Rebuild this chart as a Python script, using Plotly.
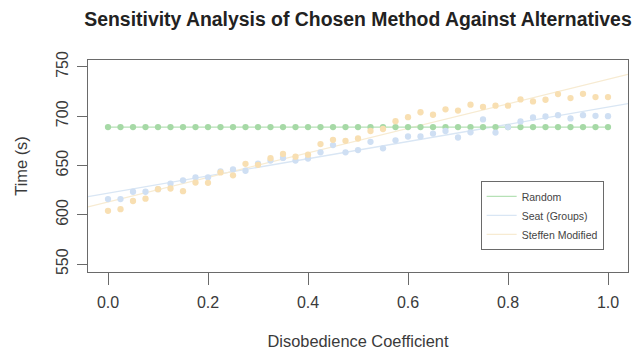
import numpy as np
import plotly.graph_objects as go

# ---- data ----
coef = [round(i * 0.025, 3) for i in range(41)]
random_t = [689] * 41
seat_t = [616, 616, 623.4, 623.4, 626, 631.7, 635, 638, 638, 644, 646,
          644.7, 652, 655, 657.7, 655, 657, 663.4, 670.7, 663.4, 665.7,
          674, 667.4, 675.5, 679.4, 679.4, 682.4, 685, 678.4, 683.7, 696.7,
          683.4, 689, 694.7, 698.7, 699.7, 701, 697.7, 701, 700.4, 700]
steffen_t = [604, 605.7, 614, 616.4, 626, 626.7, 624, 632.7, 632.4, 643, 640,
             651.7, 650.7, 657.4, 661.7, 659, 661, 671.7, 676, 675, 677.4,
             685, 687, 695, 699, 704, 701.5, 707, 705.7, 711.7, 709.4,
             710.7, 710.7, 717, 715, 716.7, 722.4, 718.4, 722.7, 719.4, 719.4]
names = ["Random", "Seat (Groups)", "Steffen Modified"]
x_ticks = [0.0, 0.2, 0.4, 0.6, 0.8, 1.0]
y_ticks = [550, 600, 650, 700, 750]

XRANGE = [-0.04, 1.04]
YRANGE = [542, 757]

FONT = "Liberation Sans, Arial, Helvetica, sans-serif"
c_green_pt, c_green_ln = "#a6d9a6", "#b6e1b6"
c_blue_pt, c_blue_ln = "#cfdff3", "#d9e6f4"
c_orng_pt, c_orng_ln = "#f8dfb2", "#f7ebd2"

fig = go.Figure()

xc = np.array(coef)
xl = np.array(XRANGE)
for vals, name, col, rank in [(seat_t, names[1], c_blue_ln, 2),
                              (steffen_t, names[2], c_orng_ln, 3)]:
    k, b = np.polyfit(xc, np.array(vals), 1)
    fig.add_trace(go.Scatter(x=xl, y=k * xl + b, mode="lines", name=name,
                             line=dict(color=col, width=1.3), legendrank=rank))

fig.add_trace(go.Scatter(x=coef, y=random_t, mode="lines", name=names[0],
                         line=dict(color=c_green_ln, width=1.3), legendrank=1))
fig.add_trace(go.Scatter(x=coef, y=random_t, mode="markers", showlegend=False,
                         marker=dict(color=c_green_pt, size=6.3)))
fig.add_trace(go.Scatter(x=coef, y=seat_t, mode="markers", showlegend=False,
                         marker=dict(color=c_blue_pt, size=6.3)))
fig.add_trace(go.Scatter(x=coef, y=steffen_t, mode="markers", showlegend=False,
                         marker=dict(color=c_orng_pt, size=6.3)))

axis_common = dict(showline=True, mirror=True, linecolor="#6a6a6a", linewidth=1,
                   ticks="outside", tickcolor="#6a6a6a", showgrid=False,
                   zeroline=False, tickfont=dict(size=16, color="#3a3a3a"))

fig.update_layout(
    width=635, height=354,
    margin=dict(l=88, r=6, t=60, b=79),
    paper_bgcolor="white", plot_bgcolor="white",
    font=dict(family=FONT, color="#3a3a3a"),
    title=dict(text="<b>Sensitivity Analysis of Chosen Method Against Alternatives</b>",
               x=0.5, xref="paper", xanchor="center",
               y=1 - 19.5 / 354, yref="container", yanchor="middle",
               font=dict(size=19.4, color="#222")),
    xaxis=dict(range=XRANGE, tickvals=x_ticks,
               ticktext=[f"{v:.1f}" for v in x_ticks], ticklen=12,
               ticklabelstandoff=4,
               title=dict(text="Disobedience Coefficient", font=dict(size=16.4), standoff=25),
               **axis_common),
    yaxis=dict(range=YRANGE, tickvals=y_ticks, ticklen=10, tickangle=-90,
               ticklabelstandoff=3,
               title=dict(text="Time (s)", font=dict(size=16.4), standoff=21),
               **axis_common),
    legend=dict(x=0.841, y=0.267, xanchor="center", yanchor="middle",
                bordercolor="#6a6a6a", borderwidth=1, bgcolor="white",
                font=dict(size=10.5, color="#444"), itemwidth=30,
                tracegroupgap=0),
)

fig.write_html("out.html")
